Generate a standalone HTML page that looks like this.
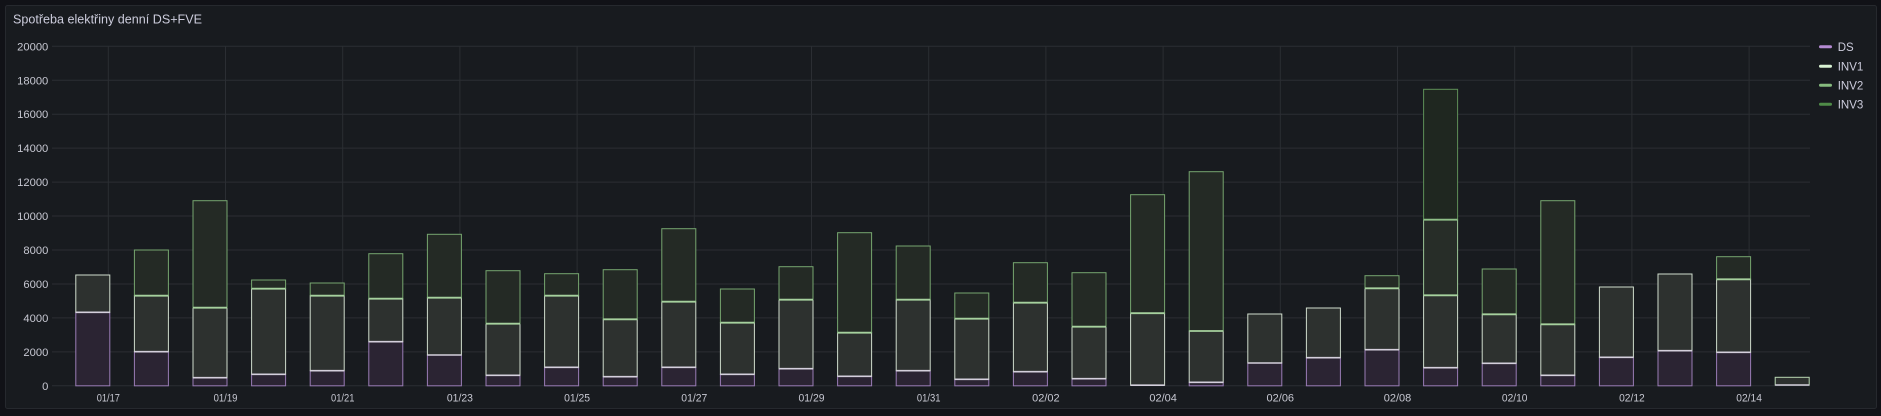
<!DOCTYPE html>
<html>
<head>
<meta charset="utf-8">
<style>
html,body{margin:0;padding:0;background:#111217;}
svg{display:block;}
text{font-family:"Liberation Sans","DejaVu Sans",sans-serif;}
.ds{fill:#2b2433;stroke:#9a7cb6;stroke-width:1}
.w{fill:#2d312f;stroke:#cfdccc;stroke-width:1}
.g{fill:#242a25;stroke:#76a66f;stroke-width:1}
.l{fill:#272d28;stroke:#9cc596;stroke-width:1}
.gd{fill:#1f2720;stroke:#5e8f58;stroke-width:1}
.bd{stroke:#d4cfdc;stroke-width:1.6}
.bg{stroke:#a6d19e;stroke-width:1.8}
.grid{stroke:#2b2e33;stroke-width:1}
.yl{fill:#c7c8d2;font-size:11.2px;text-anchor:end}
.xl{fill:#c7c8d2;font-size:11px;text-anchor:middle}
.lg{fill:#ccccdc;font-size:11.5px}
</style>
</head>
<body>
<svg width="1881" height="416" viewBox="0 0 1881 416" xmlns="http://www.w3.org/2000/svg">
<rect x="0" y="0" width="1881" height="416" fill="#111217"/>
<rect x="5.5" y="5.5" width="1871" height="403" rx="2" fill="#181b1f" stroke="#26292e" stroke-width="1"/>
<text x="13" y="23.3" fill="#ccccdc" font-size="12.5" textLength="189" lengthAdjust="spacingAndGlyphs">Spotřeba elektřiny denní DS+FVE</text>

<!-- horizontal grid -->
<g class="grid">
<line x1="52" y1="385.8" x2="1810" y2="385.8"/>
<line x1="52" y1="351.85" x2="1810" y2="351.85"/>
<line x1="52" y1="317.9" x2="1810" y2="317.9"/>
<line x1="52" y1="283.95" x2="1810" y2="283.95"/>
<line x1="52" y1="250" x2="1810" y2="250"/>
<line x1="52" y1="216.05" x2="1810" y2="216.05"/>
<line x1="52" y1="182.1" x2="1810" y2="182.1"/>
<line x1="52" y1="148.15" x2="1810" y2="148.15"/>
<line x1="52" y1="114.2" x2="1810" y2="114.2"/>
<line x1="52" y1="80.25" x2="1810" y2="80.25"/>
<line x1="52" y1="46.3" x2="1810" y2="46.3"/>
</g>
<!-- vertical grid -->
<g class="grid">
<line x1="108.3" y1="46.3" x2="108.3" y2="385.8"/>
<line x1="225.5" y1="46.3" x2="225.5" y2="385.8"/>
<line x1="342.7" y1="46.3" x2="342.7" y2="385.8"/>
<line x1="459.9" y1="46.3" x2="459.9" y2="385.8"/>
<line x1="577.1" y1="46.3" x2="577.1" y2="385.8"/>
<line x1="694.3" y1="46.3" x2="694.3" y2="385.8"/>
<line x1="811.5" y1="46.3" x2="811.5" y2="385.8"/>
<line x1="928.7" y1="46.3" x2="928.7" y2="385.8"/>
<line x1="1045.9" y1="46.3" x2="1045.9" y2="385.8"/>
<line x1="1163.1" y1="46.3" x2="1163.1" y2="385.8"/>
<line x1="1280.3" y1="46.3" x2="1280.3" y2="385.8"/>
<line x1="1397.5" y1="46.3" x2="1397.5" y2="385.8"/>
<line x1="1514.7" y1="46.3" x2="1514.7" y2="385.8"/>
<line x1="1631.9" y1="46.3" x2="1631.9" y2="385.8"/>
<line x1="1749.1" y1="46.3" x2="1749.1" y2="385.8"/>
</g>

<!-- y labels -->
<text class="yl" x="48.3" y="389.8">0</text>
<text class="yl" x="48.3" y="355.9">2000</text>
<text class="yl" x="48.3" y="321.9">4000</text>
<text class="yl" x="48.3" y="288">6000</text>
<text class="yl" x="48.3" y="254">8000</text>
<text class="yl" x="48.3" y="220.1">10000</text>
<text class="yl" x="48.3" y="186.1">12000</text>
<text class="yl" x="48.3" y="152.2">14000</text>
<text class="yl" x="48.3" y="118.2">16000</text>
<text class="yl" x="48.3" y="84.3">18000</text>
<text class="yl" x="48.3" y="50.3">20000</text>

<!-- x labels -->
<text class="xl" x="108.3" y="401.7" textLength="23.2" lengthAdjust="spacingAndGlyphs">01/17</text>
<text class="xl" x="225.5" y="401.7" textLength="23.8" lengthAdjust="spacingAndGlyphs">01/19</text>
<text class="xl" x="342.7" y="401.7" textLength="23.4" lengthAdjust="spacingAndGlyphs">01/21</text>
<text class="xl" x="459.9" y="401.7" textLength="26" lengthAdjust="spacingAndGlyphs">01/23</text>
<text class="xl" x="577.1" y="401.7" textLength="26" lengthAdjust="spacingAndGlyphs">01/25</text>
<text class="xl" x="694.3" y="401.7" textLength="26" lengthAdjust="spacingAndGlyphs">01/27</text>
<text class="xl" x="811.5" y="401.7" textLength="26" lengthAdjust="spacingAndGlyphs">01/29</text>
<text class="xl" x="928.7" y="401.7" textLength="23.6" lengthAdjust="spacingAndGlyphs">01/31</text>
<text class="xl" x="1045.9" y="401.7" textLength="27.5" lengthAdjust="spacingAndGlyphs">02/02</text>
<text class="xl" x="1163.1" y="401.7" textLength="27.5" lengthAdjust="spacingAndGlyphs">02/04</text>
<text class="xl" x="1280.3" y="401.7" textLength="27.5" lengthAdjust="spacingAndGlyphs">02/06</text>
<text class="xl" x="1397.5" y="401.7" textLength="27.5" lengthAdjust="spacingAndGlyphs">02/08</text>
<text class="xl" x="1514.7" y="401.7" textLength="25.6" lengthAdjust="spacingAndGlyphs">02/10</text>
<text class="xl" x="1631.9" y="401.7" textLength="25.6" lengthAdjust="spacingAndGlyphs">02/12</text>
<text class="xl" x="1749.1" y="401.7" textLength="25.6" lengthAdjust="spacingAndGlyphs">02/14</text>

<!-- bars -->
<g transform="translate(75.8,0)">
<rect class="ds" x="0" y="312.3" width="34" height="73.5"/>
<rect class="w" x="0" y="275" width="34" height="37.3"/>
<line class="bd" x1="0" y1="312.3" x2="34" y2="312.3"/>
</g>
<g transform="translate(134.4,0)">
<rect class="ds" x="0" y="351.7" width="34" height="34.1"/>
<rect class="w" x="0" y="295.7" width="34" height="56"/>
<rect class="g" x="0" y="250" width="34" height="45.7"/>
<line class="bd" x1="0" y1="351.7" x2="34" y2="351.7"/>
<line class="bg" x1="0" y1="295.7" x2="34" y2="295.7"/>
</g>
<g transform="translate(193,0)">
<rect class="ds" x="0" y="377.7" width="34" height="8.1"/>
<rect class="w" x="0" y="307.7" width="34" height="70"/>
<rect class="g" x="0" y="200.7" width="34" height="107"/>
<line class="bd" x1="0" y1="377.7" x2="34" y2="377.7"/>
<line class="bg" x1="0" y1="307.7" x2="34" y2="307.7"/>
</g>
<g transform="translate(251.6,0)">
<rect class="ds" x="0" y="374.3" width="34" height="11.5"/>
<rect class="w" x="0" y="288.7" width="34" height="85.6"/>
<rect class="g" x="0" y="280" width="34" height="8.7"/>
<line class="bd" x1="0" y1="374.3" x2="34" y2="374.3"/>
<line class="bg" x1="0" y1="288.7" x2="34" y2="288.7"/>
</g>
<g transform="translate(310.2,0)">
<rect class="ds" x="0" y="370.7" width="34" height="15.1"/>
<rect class="w" x="0" y="295.7" width="34" height="75"/>
<rect class="g" x="0" y="283" width="34" height="12.7"/>
<line class="bd" x1="0" y1="370.7" x2="34" y2="370.7"/>
<line class="bg" x1="0" y1="295.7" x2="34" y2="295.7"/>
</g>
<g transform="translate(368.8,0)">
<rect class="ds" x="0" y="341.7" width="34" height="44.1"/>
<rect class="w" x="0" y="298.7" width="34" height="43"/>
<rect class="g" x="0" y="253.7" width="34" height="45"/>
<line class="bd" x1="0" y1="341.7" x2="34" y2="341.7"/>
<line class="bg" x1="0" y1="298.7" x2="34" y2="298.7"/>
</g>
<g transform="translate(427.4,0)">
<rect class="ds" x="0" y="355" width="34" height="30.8"/>
<rect class="w" x="0" y="297.7" width="34" height="57.3"/>
<rect class="g" x="0" y="234.3" width="34" height="63.4"/>
<line class="bd" x1="0" y1="355" x2="34" y2="355"/>
<line class="bg" x1="0" y1="297.7" x2="34" y2="297.7"/>
</g>
<g transform="translate(486,0)">
<rect class="ds" x="0" y="375.3" width="34" height="10.5"/>
<rect class="w" x="0" y="323.7" width="34" height="51.6"/>
<rect class="g" x="0" y="270.7" width="34" height="53"/>
<line class="bd" x1="0" y1="375.3" x2="34" y2="375.3"/>
<line class="bg" x1="0" y1="323.7" x2="34" y2="323.7"/>
</g>
<g transform="translate(544.6,0)">
<rect class="ds" x="0" y="367.3" width="34" height="18.5"/>
<rect class="w" x="0" y="295.7" width="34" height="71.6"/>
<rect class="g" x="0" y="273.7" width="34" height="22"/>
<line class="bd" x1="0" y1="367.3" x2="34" y2="367.3"/>
<line class="bg" x1="0" y1="295.7" x2="34" y2="295.7"/>
</g>
<g transform="translate(603.2,0)">
<rect class="ds" x="0" y="376.7" width="34" height="9.1"/>
<rect class="w" x="0" y="319.3" width="34" height="57.4"/>
<rect class="g" x="0" y="269.7" width="34" height="49.6"/>
<line class="bd" x1="0" y1="376.7" x2="34" y2="376.7"/>
<line class="bg" x1="0" y1="319.3" x2="34" y2="319.3"/>
</g>
<g transform="translate(661.8,0)">
<rect class="ds" x="0" y="367.3" width="34" height="18.5"/>
<rect class="w" x="0" y="301.7" width="34" height="65.6"/>
<rect class="g" x="0" y="228.7" width="34" height="73"/>
<line class="bd" x1="0" y1="367.3" x2="34" y2="367.3"/>
<line class="bg" x1="0" y1="301.7" x2="34" y2="301.7"/>
</g>
<g transform="translate(720.4,0)">
<rect class="ds" x="0" y="374.3" width="34" height="11.5"/>
<rect class="w" x="0" y="322.7" width="34" height="51.6"/>
<rect class="g" x="0" y="289" width="34" height="33.7"/>
<line class="bd" x1="0" y1="374.3" x2="34" y2="374.3"/>
<line class="bg" x1="0" y1="322.7" x2="34" y2="322.7"/>
</g>
<g transform="translate(779,0)">
<rect class="ds" x="0" y="368.7" width="34" height="17.1"/>
<rect class="w" x="0" y="299.7" width="34" height="69"/>
<rect class="g" x="0" y="266.7" width="34" height="33"/>
<line class="bd" x1="0" y1="368.7" x2="34" y2="368.7"/>
<line class="bg" x1="0" y1="299.7" x2="34" y2="299.7"/>
</g>
<g transform="translate(837.6,0)">
<rect class="ds" x="0" y="376.3" width="34" height="9.5"/>
<rect class="w" x="0" y="332.7" width="34" height="43.6"/>
<rect class="g" x="0" y="232.7" width="34" height="100"/>
<line class="bd" x1="0" y1="376.3" x2="34" y2="376.3"/>
<line class="bg" x1="0" y1="332.7" x2="34" y2="332.7"/>
</g>
<g transform="translate(896.2,0)">
<rect class="ds" x="0" y="370.7" width="34" height="15.1"/>
<rect class="w" x="0" y="299.7" width="34" height="71"/>
<rect class="g" x="0" y="246" width="34" height="53.7"/>
<line class="bd" x1="0" y1="370.7" x2="34" y2="370.7"/>
<line class="bg" x1="0" y1="299.7" x2="34" y2="299.7"/>
</g>
<g transform="translate(954.8,0)">
<rect class="ds" x="0" y="379.3" width="34" height="6.5"/>
<rect class="w" x="0" y="318.7" width="34" height="60.6"/>
<rect class="g" x="0" y="293" width="34" height="25.7"/>
<line class="bd" x1="0" y1="379.3" x2="34" y2="379.3"/>
<line class="bg" x1="0" y1="318.7" x2="34" y2="318.7"/>
</g>
<g transform="translate(1013.4,0)">
<rect class="ds" x="0" y="371.7" width="34" height="14.1"/>
<rect class="w" x="0" y="302.7" width="34" height="69"/>
<rect class="g" x="0" y="262.7" width="34" height="40"/>
<line class="bd" x1="0" y1="371.7" x2="34" y2="371.7"/>
<line class="bg" x1="0" y1="302.7" x2="34" y2="302.7"/>
</g>
<g transform="translate(1072,0)">
<rect class="ds" x="0" y="378.7" width="34" height="7.1"/>
<rect class="w" x="0" y="326.7" width="34" height="52"/>
<rect class="g" x="0" y="272.7" width="34" height="54"/>
<line class="bd" x1="0" y1="378.7" x2="34" y2="378.7"/>
<line class="bg" x1="0" y1="326.7" x2="34" y2="326.7"/>
</g>
<g transform="translate(1130.6,0)">
<rect class="w" x="0" y="313.2" width="34" height="72.1"/>
<rect class="g" x="0" y="194.7" width="34" height="118.5"/>
<line class="bd" x1="0" y1="385.2" x2="34" y2="385.2"/>
<line class="bg" x1="0" y1="313.2" x2="34" y2="313.2"/>
</g>
<g transform="translate(1189.2,0)">
<rect class="ds" x="0" y="382.3" width="34" height="3.5"/>
<rect class="w" x="0" y="331" width="34" height="51.3"/>
<rect class="g" x="0" y="171.7" width="34" height="159.3"/>
<line class="bd" x1="0" y1="382.3" x2="34" y2="382.3"/>
<line class="bg" x1="0" y1="331" x2="34" y2="331"/>
</g>
<g transform="translate(1247.8,0)">
<rect class="ds" x="0" y="363" width="34" height="22.8"/>
<rect class="w" x="0" y="314" width="34" height="49"/>
<line class="bd" x1="0" y1="363" x2="34" y2="363"/>
</g>
<g transform="translate(1306.4,0)">
<rect class="ds" x="0" y="357.7" width="34" height="28.1"/>
<rect class="w" x="0" y="308" width="34" height="49.7"/>
<line class="bd" x1="0" y1="357.7" x2="34" y2="357.7"/>
</g>
<g transform="translate(1365,0)">
<rect class="ds" x="0" y="349.7" width="34" height="36.1"/>
<rect class="w" x="0" y="288.3" width="34" height="61.4"/>
<rect class="g" x="0" y="275.7" width="34" height="12.6"/>
<line class="bd" x1="0" y1="349.7" x2="34" y2="349.7"/>
<line class="bg" x1="0" y1="288.3" x2="34" y2="288.3"/>
</g>
<g transform="translate(1423.6,0)">
<rect class="ds" x="0" y="367.7" width="34" height="18.1"/>
<rect class="w" x="0" y="295.3" width="34" height="72.4"/>
<rect class="l" x="0" y="219.7" width="34" height="75.6"/>
<rect class="gd" x="0" y="89.3" width="34" height="130.4"/>
<line class="bd" x1="0" y1="367.7" x2="34" y2="367.7"/>
<line class="bg" x1="0" y1="295.3" x2="34" y2="295.3"/>
<line class="bg" x1="0" y1="219.7" x2="34" y2="219.7" style="stroke:#8fc088"/>
</g>
<g transform="translate(1482.2,0)">
<rect class="ds" x="0" y="363.3" width="34" height="22.5"/>
<rect class="w" x="0" y="314.3" width="34" height="49"/>
<rect class="g" x="0" y="269" width="34" height="45.3"/>
<line class="bd" x1="0" y1="363.3" x2="34" y2="363.3"/>
<line class="bg" x1="0" y1="314.3" x2="34" y2="314.3"/>
</g>
<g transform="translate(1540.8,0)">
<rect class="ds" x="0" y="375.3" width="34" height="10.5"/>
<rect class="w" x="0" y="324.3" width="34" height="51"/>
<rect class="g" x="0" y="200.7" width="34" height="123.6"/>
<line class="bd" x1="0" y1="375.3" x2="34" y2="375.3"/>
<line class="bg" x1="0" y1="324.3" x2="34" y2="324.3"/>
</g>
<g transform="translate(1599.4,0)">
<rect class="ds" x="0" y="357.3" width="34" height="28.5"/>
<rect class="w" x="0" y="287" width="34" height="70.3"/>
<line class="bd" x1="0" y1="357.3" x2="34" y2="357.3"/>
</g>
<g transform="translate(1658,0)">
<rect class="ds" x="0" y="350.7" width="34" height="35.1"/>
<rect class="w" x="0" y="274" width="34" height="76.7"/>
<line class="bd" x1="0" y1="350.7" x2="34" y2="350.7"/>
</g>
<g transform="translate(1716.6,0)">
<rect class="ds" x="0" y="352.3" width="34" height="33.5"/>
<rect class="w" x="0" y="279.3" width="34" height="73"/>
<rect class="g" x="0" y="256.7" width="34" height="22.6"/>
<line class="bd" x1="0" y1="352.3" x2="34" y2="352.3"/>
<line class="bg" x1="0" y1="279.3" x2="34" y2="279.3"/>
</g>
<g transform="translate(1775.2,0)">
<rect class="w" x="0" y="377.3" width="34" height="7.8" style="stroke:#b9d8b3"/>
<line class="bd" x1="0" y1="385" x2="34" y2="385"/>
</g>

<!-- legend -->
<g>
<line x1="1820.5" y1="46.7" x2="1830.5" y2="46.7" stroke="#b48ad2" stroke-width="3" stroke-linecap="round"/>
<text class="lg" x="1837.7" y="50.8">DS</text>
<line x1="1820.5" y1="66.3" x2="1830.5" y2="66.3" stroke="#d8f2d2" stroke-width="3" stroke-linecap="round"/>
<text class="lg" x="1837.7" y="70.4">INV1</text>
<line x1="1820.5" y1="85.3" x2="1830.5" y2="85.3" stroke="#86bb7e" stroke-width="3" stroke-linecap="round"/>
<text class="lg" x="1837.7" y="89.4">INV2</text>
<line x1="1820.5" y1="104.3" x2="1830.5" y2="104.3" stroke="#4f8c48" stroke-width="3" stroke-linecap="round"/>
<text class="lg" x="1837.7" y="108.4">INV3</text>
</g>
</svg>
</body>
</html>
